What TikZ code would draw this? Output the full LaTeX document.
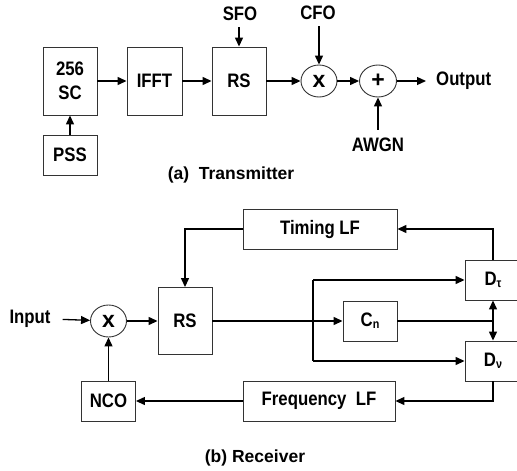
\documentclass[tikz,border=0pt]{standalone}
\usepackage{fontspec}
\setmainfont{Liberation Sans}
\newfontfamily\labfont{Liberation Sans}[FakeStretch=0.86]
\usetikzlibrary{arrows.meta,shapes.geometric}
\newcommand{\lowsub}[1]{\raisebox{-0.2ex}{\fontsize{12.5}{12.5}\selectfont #1}}
\tikzset{
  blk/.style={draw=black!80, line width=0.9pt, minimum width=#1, inner sep=0pt,
    font=\labfont\bfseries\fontsize{19.5}{21}\selectfont, align=center},
  blk/.default=54pt,
  circ/.style={draw=black!80, line width=0.9pt, ellipse, minimum width=36pt, minimum height=32pt, inner sep=0pt,
    font=\bfseries\fontsize{23}{23}\selectfont},
  lbl/.style={inner sep=0pt, font=\labfont\bfseries\fontsize{19.5}{21}\selectfont},
  captxt/.style={inner sep=0pt, font=\bfseries\fontsize{17.5}{20}\selectfont},
  arr/.style={draw=black, line width=1.3pt, -{Triangle[length=9pt,width=8pt]}},
  ln/.style={draw=black, line width=1.3pt},
}
\begin{document}
\begin{tikzpicture}[x=1pt,y=-1pt]
\useasboundingbox (0,0) rectangle (517,471);
% ---------------- Transmitter ----------------
\node[blk, minimum height=68pt] (sc) at (70,81) {256\\[3pt]SC};
\node[blk, minimum height=40pt] (pss) at (70,155) {PSS};
\node[blk=55pt, minimum height=68pt] (ifft) at (154.5,81) {IFFT};
\node[blk, minimum height=68pt] (rst) at (239,81) {RS};
\node[circ] (mulA) at (319,81) {x};
\node[circ, minimum width=37pt] (add) at (378,81) {+};
\node[lbl, anchor=west] (out) at (436,81) {Output};
\node[lbl] (sfo) at (240,14) {SFO};
\node[lbl] (cfo) at (318,13) {CFO};
\node[lbl] (awgn) at (378,145) {AWGN};
\node[captxt] (capa) at (231,175) {(a)\ \ Transmitter};

\draw[arr] (pss) -- (sc);
\draw[arr] (sc) -- (ifft);
\draw[arr] (ifft) -- (rst);
\draw[arr] (rst) -- (mulA);
\draw[arr] (mulA) -- (add);
\draw[arr, shorten >=10pt] (add) -- (out.west);
\draw[arr, shorten <=6pt] (sfo.south -| rst.north) -- (rst.north);
\draw[arr, shorten <=6pt] (cfo.south -| mulA.north) -- (mulA.north);
\draw[arr, shorten <=8pt] (awgn.north -| add.south) -- (add.south);

% ---------------- Receiver ----------------
\node[blk=154pt, minimum height=40pt] (tlf) at (320,229) {Timing LF};
\node[blk, minimum height=67pt] (rsr) at (185,321) {RS};
\node[lbl] (inp) at (30,319) {Input};
\node[circ] (mulB) at (108.5,321) {x};
\node[blk, minimum height=40pt] (nco) at (108.5,401) {NCO};
\node[blk=152pt, minimum height=40pt] (flf) at (319,401) {Frequency\ \ LF};
\node[blk, minimum height=40pt] (cn) at (370,321) {C\lowsub{n}};
\node[blk=56pt, minimum height=40pt] (dt) at (493,280) {D\lowsub{τ}};
\node[blk=56pt, minimum height=40pt] (dv) at (493,361) {D\lowsub{ν}};
\node[captxt] (capb) at (255,458) {(b) Receiver};
\coordinate (br) at (313,321);
\coordinate (jn) at (493,321);

\draw[arr, shorten <=12pt] (inp.east) -- (mulB);
\draw[arr] (mulB) -- (rsr);
\draw[arr] (nco) -- (mulB);
\draw[arr] (flf) -- (nco);
\draw[arr] (tlf.west) -| (rsr.north);
\draw[arr] (rsr) -- (cn);
\draw[ln] (br |- dt.west) -- (br |- dv.west);
\draw[arr] (br |- dt.west) -- (dt.west);
\draw[arr] (br |- dv.west) -- (dv.west);
\draw[ln] (cn.east) -- (jn);
\draw[draw=black, line width=1.3pt, {Triangle[length=9pt,width=8pt]}-{Triangle[length=9pt,width=8pt]}] (dt.south) -- (dv.north);
\draw[arr] (dt.north) |- (tlf.east);
\draw[arr] (dv.south) |- (flf.east);
\end{tikzpicture}
\end{document}
